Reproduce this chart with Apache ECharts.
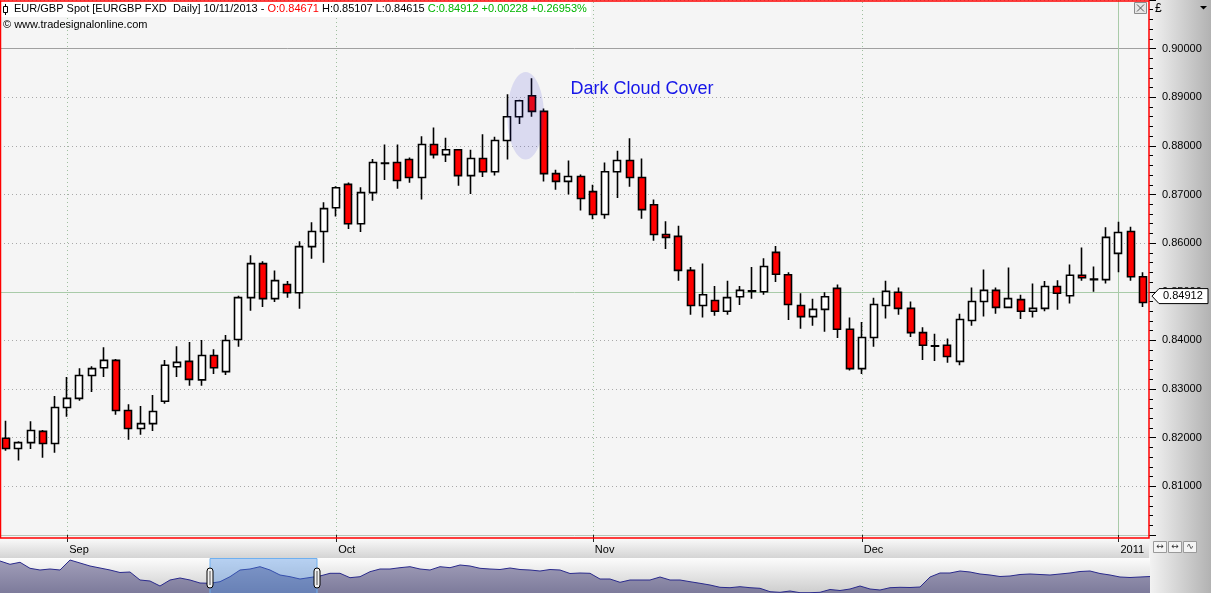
<!DOCTYPE html>
<html><head><meta charset="utf-8">
<script src="https://cdn.jsdelivr.net/npm/echarts@6/dist/echarts.min.js"></script>
<style>html,body{margin:0;padding:0;background:#f5f5f5;overflow:hidden}#c{width:1211px;height:593px}</style>
</head><body><div id="c"></div>
<script>
// ---------- DATA ----------
const dates = [
'2010-08-25','2010-08-26','2010-08-27','2010-08-30','2010-08-31',
'2010-09-01','2010-09-02','2010-09-03','2010-09-06','2010-09-07','2010-09-08','2010-09-09','2010-09-10','2010-09-13','2010-09-14','2010-09-15','2010-09-16','2010-09-17','2010-09-20','2010-09-21','2010-09-22','2010-09-23','2010-09-24','2010-09-27','2010-09-28','2010-09-29','2010-09-30',
'2010-10-01','2010-10-04','2010-10-05','2010-10-06','2010-10-07','2010-10-08','2010-10-11','2010-10-12','2010-10-13','2010-10-14','2010-10-15','2010-10-18','2010-10-19','2010-10-20','2010-10-21','2010-10-22','2010-10-25','2010-10-26','2010-10-27','2010-10-28','2010-10-29',
'2010-11-01','2010-11-02','2010-11-03','2010-11-04','2010-11-05','2010-11-08','2010-11-09','2010-11-10','2010-11-11','2010-11-12','2010-11-15','2010-11-16','2010-11-17','2010-11-18','2010-11-19','2010-11-22','2010-11-23','2010-11-24','2010-11-25','2010-11-26','2010-11-29','2010-11-30',
'2010-12-01','2010-12-02','2010-12-03','2010-12-06','2010-12-07','2010-12-08','2010-12-09','2010-12-10','2010-12-13','2010-12-14','2010-12-15','2010-12-16','2010-12-17','2010-12-20','2010-12-21','2010-12-22','2010-12-23','2010-12-27','2010-12-28','2010-12-29','2010-12-30',
'2011-01-03','2011-01-04','2011-01-05'
];
const openP = [0.8199,0.8178,0.8190,0.8213,0.8188,0.8262,0.8281,0.8328,0.8344,0.8359,0.8256,0.8219,0.8229,0.8275,0.8346,0.8357,0.8319,0.8369,0.8336,0.8402,0.8488,0.8558,0.8486,0.8515,0.8498,0.8593,0.8624,0.8673,0.8721,0.8640,0.8704,0.8765,0.8766,0.8772,0.8735,0.8803,0.8782,0.8792,0.8739,0.8774,0.8747,0.8811,0.8860,0.8903,0.8871,0.8743,0.8727,0.8737,0.8706,0.8659,0.8747,0.8770,0.8735,0.8679,0.8618,0.8614,0.8544,0.8472,0.8482,0.8460,0.8490,0.8501,0.8500,0.8581,0.8535,0.8472,0.8449,0.8464,0.8507,0.8423,0.8342,0.8406,0.8472,0.8499,0.8466,0.8416,0.8389,0.8390,0.8357,0.8441,0.8480,0.8503,0.8468,0.8484,0.8460,0.8466,0.8511,0.8492,0.8534,0.8526,0.8525,0.8579,0.8624,0.8531];
const closeP = [0.8178,0.8190,0.8215,0.8188,0.8262,0.8281,0.8328,0.8342,0.8359,0.8256,0.8219,0.8229,0.8254,0.8349,0.8355,0.8320,0.8369,0.8344,0.8400,0.8488,0.8558,0.8486,0.8523,0.8498,0.8593,0.8624,0.8671,0.8714,0.8640,0.8704,0.8766,0.8764,0.8729,0.8735,0.8803,0.8782,0.8792,0.8739,0.8774,0.8747,0.8811,0.8860,0.8893,0.8871,0.8743,0.8727,0.8737,0.8692,0.8659,0.8747,0.8770,0.8735,0.8669,0.8618,0.8612,0.8544,0.8472,0.8494,0.8460,0.8488,0.8503,0.8502,0.8552,0.8536,0.8474,0.8449,0.8464,0.8490,0.8423,0.8342,0.8406,0.8474,0.8501,0.8466,0.8416,0.8390,0.8388,0.8367,0.8443,0.8480,0.8503,0.8468,0.8486,0.8460,0.8466,0.8511,0.8497,0.8534,0.8529,0.8525,0.8612,0.8622,0.8531,0.8478];
const lowP = [0.8173,0.8153,0.8177,0.8159,0.8169,0.8243,0.8276,0.8294,0.8325,0.8247,0.8196,0.8206,0.8214,0.8270,0.8325,0.8307,0.8307,0.8331,0.8329,0.8387,0.8461,0.8469,0.8479,0.8488,0.8465,0.8568,0.8560,0.8655,0.8629,0.8623,0.8687,0.8730,0.8712,0.8724,0.8690,0.8774,0.8767,0.8718,0.8701,0.8736,0.8739,0.8772,0.8845,0.8860,0.8727,0.8710,0.8700,0.8667,0.8649,0.8650,0.8693,0.8716,0.8650,0.8605,0.8588,0.8523,0.8453,0.8447,0.8451,0.8453,0.8473,0.8486,0.8494,0.8520,0.8442,0.8424,0.8430,0.8418,0.8405,0.8338,0.8331,0.8387,0.8445,0.8453,0.8407,0.8360,0.8358,0.8354,0.8349,0.8430,0.8449,0.8455,0.8466,0.8444,0.8447,0.8460,0.8463,0.8476,0.8523,0.8500,0.8517,0.8540,0.8523,0.8469];
const highP = [0.8235,0.8193,0.8234,0.8216,0.8286,0.8325,0.8343,0.8347,0.8386,0.8362,0.8269,0.8265,0.8288,0.8360,0.8388,0.8397,0.8401,0.8382,0.8411,0.8492,0.8575,0.8563,0.8544,0.8522,0.8604,0.8643,0.8684,0.8717,0.8725,0.8715,0.8773,0.8803,0.8803,0.8776,0.8820,0.8838,0.8817,0.8792,0.8792,0.8824,0.8819,0.8906,0.8895,0.8939,0.8877,0.8751,0.8770,0.8741,0.8720,0.8766,0.8790,0.8816,0.8774,0.8690,0.8645,0.8636,0.8551,0.8558,0.8512,0.8523,0.8512,0.8551,0.8569,0.8594,0.8540,0.8497,0.8486,0.8499,0.8515,0.8447,0.8438,0.8488,0.8523,0.8509,0.8480,0.8427,0.8414,0.8404,0.8455,0.8509,0.8546,0.8509,0.8550,0.8494,0.8517,0.8522,0.8524,0.8556,0.8591,0.8552,0.8633,0.8644,0.8634,0.8540];
const monthLabels = {'2010-09-01':'Sep','2010-10-01':'Oct','2010-11-01':'Nov','2010-12-01':'Dec','2011-01-03':'2011'};
const yMin = 0.80, yMax = 0.91, yStep = 0.01;
const lastPrice = 0.84912;
const levelLine = 0.85;
const topLine = 0.90;
const patternDates = ['2010-10-22','2010-10-25'];
const patternCenter = 0.8862, patternHalfHeight = 0.0090;
const patternLabel = 'Dark Cloud Cover';
const patternLabelAt = ['2010-10-28', 0.8916];
const headerParts = [
  ['EUR/GBP Spot [EURGBP FXD  Daily] 10/11/2013 - ', '#000000'],
  ['O:0.84671', '#ff0000'],
  [' H:0.85107 L:0.84615 ', '#000000'],
  ['C:0.84912 +0.00228 +0.26953%', '#00b400']
];
const copyright = '\u00a9 www.tradesignalonline.com';
// navigator overview (relative level, sampled left to right)
const navValues = [32,28.7,30.7,24.7,23,24,23,33,30,27,25,23,20.5,21,13,12,7,13,15,13,10,9.7,11.3,16.3,23,24,26.3,23,18,16.3,14,15.5,17,19.7,19.7,15.3,16.3,21.3,24,24,25.3,26.3,24,23,26.3,25.3,28,27,24.7,24,23.5,25,23.5,23,22,23.5,23,19.5,20,19.7,14,14,10.7,13,13,13,16,13,13,11.3,9.7,8,5.7,5.3,6.3,5.3,4.7,1.3,0.7,2,0.3,0.3,0.7,3.5,2.5,4,7,4,3,5.3,5.7,5.5,6,16,20,20,22,21,19,18,16.5,17,18.5,19,18.5,18,19,20,21.5,22,19.5,18,16,15.5,16,16.5];
const navWindow = [21, 31.7];

// ---------- CHART ----------
const FONT = '"Liberation Sans", Arial, sans-serif';
const chart = echarts.init(document.getElementById('c'), null, {renderer: 'canvas'});
const candleData = dates.map((d, i) => [openP[i], closeP[i], lowP[i], highP[i]]);
const isMonth = (idx, val) => monthLabels[val] !== undefined;

const vLines = Object.keys(monthLabels).map(d => ({
  xAxis: d,
  lineStyle: d === '2011-01-03' ? {color: '#a9cba9', type: 'solid', width: 1} : {color: '#9fbf9f', type: [1, 3], width: 1}
}));

chart.setOption({
  animation: false,
  backgroundColor: '#f5f5f5',
  grid: [
    {left: -1, right: 62, top: 0, bottom: 58, show: true, backgroundColor: '#f5f5f5', borderWidth: 0},
    {left: 0, right: 61, top: 558, height: 35, show: false}
  ],
  xAxis: [
    {type: 'category', gridIndex: 0, data: dates, boundaryGap: true,
     axisLine: {show: true, lineStyle: {color: '#b8c6b8', width: 1}},
     axisTick: {show: true, alignWithLabel: true, interval: isMonth, length: 7, lineStyle: {color: '#222', width: 1}},
     axisLabel: {interval: isMonth, formatter: v => monthLabels[v] || '', align: 'left', margin: 9, color: '#000', fontFamily: FONT, fontSize: 11, padding: [0, 0, 0, 2]},
     splitLine: {show: false}},
    {type: 'value', gridIndex: 1, min: 0, max: navValues.length - 1, show: false}
  ],
  yAxis: [
    {type: 'value', gridIndex: 0, position: 'right', min: yMin, max: yMax, interval: yStep,
     axisLine: {show: false},
     axisTick: {show: true, length: 7, lineStyle: {color: '#000'}},
     minorTick: {show: true, splitNumber: 5, length: 4, lineStyle: {color: '#000'}},
     axisLabel: {showMinLabel: false, showMaxLabel: false, formatter: v => v.toFixed(5), margin: 13, color: '#000', fontFamily: FONT, fontSize: 11},
     splitLine: {show: true, lineStyle: {color: '#a9a9a9', type: [1, 3], width: 1}}},
    {type: 'value', gridIndex: 1, min: 0, max: 35, show: false}
  ],
  series: [
    {type: 'candlestick', xAxisIndex: 0, yAxisIndex: 0, data: candleData, barWidth: 7.5, z: 3,
     itemStyle: {color: '#ffffff', color0: '#ff0000', borderColor: '#000000', borderColor0: '#000000', borderColorDoji: '#000000', borderWidth: 1.6},
     markLine: {silent: true, symbol: 'none', z: 1, label: {show: false}, animation: false,
       data: [
         {yAxis: topLine, lineStyle: {color: '#a0a0a0', type: 'solid', width: 1}},
         {yAxis: levelLine, lineStyle: {color: '#a9cba9', type: 'solid', width: 1}}
       ].concat(vLines)}},
    {type: 'line', xAxisIndex: 1, yAxisIndex: 1, data: navValues.map((v, i) => [i, v]), symbol: 'none', z: 2,
     lineStyle: {color: '#2a2a8c', width: 1},
     areaStyle: {opacity: 1, color: new echarts.graphic.LinearGradient(0, 0, 0, 1, [{offset: 0, color: '#a19eb9'}, {offset: 1, color: '#7d7b9b'}])}}
  ]
});

// ---------- ANNOTATIONS / FRAME ----------
const px = (d, v) => chart.convertToPixel({xAxisIndex: 0, yAxisIndex: 0}, [d, v]);
const mctx = document.createElement('canvas').getContext('2d');
mctx.font = '11px ' + FONT;
const g = [];
// backgrounds
g.push({type: 'rect', z: -10, shape: {x: 1149, y: 0, width: 62, height: 593},
  style: {fill: new echarts.graphic.LinearGradient(0, 0, 1, 0, [{offset: 0, color: '#f3f3f3'}, {offset: 1, color: '#b2b2b2'}])}});
g.push({type: 'rect', z: -10, shape: {x: 0, y: 538, width: 1149, height: 20},
  style: {fill: new echarts.graphic.LinearGradient(0, 0, 0, 1, [{offset: 0, color: '#fbfbfb'}, {offset: 1, color: '#d4d4d4'}])}});
g.push({type: 'rect', z: -10, shape: {x: 0, y: 558, width: 1150, height: 35},
  style: {fill: new echarts.graphic.LinearGradient(0, 0, 0, 1, [{offset: 0, color: '#fcfcfc'}, {offset: 1, color: '#cdcdcd'}])}});
// red pane border
g.push({type: 'rect', z: 100, shape: {x: 0.5, y: 1, width: 1148.5, height: 537}, style: {fill: 'none', stroke: '#ff0000', lineWidth: 1.5}});
// header
let hx = 14;
const widths = headerParts.map(p => mctx.measureText(p[0]).width);
const totalW = widths.reduce((a, b) => a + b, 0);
g.push({type: 'rect', z: 90, shape: {x: 0, y: 2, width: hx + totalW + 4, height: 15}, style: {fill: '#ffffff'}});
g.push({type: 'line', z: 91, shape: {x1: 5.5, y1: 4, x2: 5.5, y2: 15}, style: {stroke: '#000', lineWidth: 1}});
g.push({type: 'rect', z: 92, shape: {x: 3.5, y: 6.5, width: 4, height: 6}, style: {fill: '#fff', stroke: '#000', lineWidth: 1}});
headerParts.forEach((p, i) => {
  g.push({type: 'text', z: 95, x: hx, y: 3, style: {text: p[0], fill: p[1], font: '11px ' + FONT, textVerticalAlign: 'top'}});
  hx += widths[i];
});
g.push({type: 'text', z: 95, x: 3, y: 19, style: {text: copyright, fill: '#000', font: '11px ' + FONT}});
// currency symbol and dropdown
g.push({type: 'text', z: 120, x: 1155, y: 3, style: {text: '\u00a3', fill: '#000', font: '12px ' + FONT}});
g.push({type: 'polygon', z: 120, shape: {points: [[1200, 6], [1207, 6], [1203.5, 9.5]]}, style: {fill: '#000'}});
// close box
g.push({type: 'rect', z: 95, shape: {x: 1134.5, y: 2.5, width: 12, height: 11}, style: {fill: '#e6e6e6', stroke: '#8a8a8a', lineWidth: 1}});
g.push({type: 'line', z: 96, shape: {x1: 1137, y1: 4.5, x2: 1144, y2: 11.5}, style: {stroke: '#555', lineWidth: 1}});
g.push({type: 'line', z: 96, shape: {x1: 1144, y1: 4.5, x2: 1137, y2: 11.5}, style: {stroke: '#555', lineWidth: 1}});
// bottom-right buttons
['\u2194', '\u2194', '\u223f'].forEach((t, i) => {
  const bx = 1153.5 + i * 15;
  g.push({type: 'rect', z: 95, shape: {x: bx, y: 541.5, width: 13, height: 11}, style: {fill: '#f4f4f4', stroke: '#9a9a9a', lineWidth: 1}});
  g.push({type: 'text', z: 96, x: bx + 6.5, y: 547, style: {text: t, fill: '#333', font: '9px "DejaVu Sans"', textAlign: 'center', textVerticalAlign: 'middle'}});
});
// pattern ellipse
const p1 = px(patternDates[0], patternCenter), p2 = px(patternDates[1], patternCenter);
const pTop = px(patternDates[0], patternCenter + patternHalfHeight);
const step = p2[0] - p1[0];
g.push({type: 'ellipse', z: 60, shape: {cx: (p1[0] + p2[0]) / 2, cy: p1[1], rx: step * 1.5, ry: p1[1] - pTop[1]},
  style: {fill: 'rgba(40,40,210,0.13)'}});
const lp = px(patternLabelAt[0], patternLabelAt[1]);
g.push({type: 'text', z: 60, x: lp[0] + 2, y: lp[1], style: {text: patternLabel, fill: '#1616e8', font: '18px ' + FONT, textVerticalAlign: 'middle'}});
// last price tag
const ly = px(dates[dates.length - 1], lastPrice)[1];
g.push({type: 'polygon', z: 97, shape: {points: [[1152, ly], [1159, ly - 7.5], [1208, ly - 7.5], [1208, ly + 7.5], [1159, ly + 7.5]]},
  style: {fill: '#ffffff', stroke: '#000', lineWidth: 1}});
g.push({type: 'text', z: 98, x: 1163, y: ly, style: {text: lastPrice.toFixed(5), fill: '#000', font: '11px ' + FONT, textVerticalAlign: 'middle'}});
// navigator window and handles
const wx0 = chart.convertToPixel({xAxisIndex: 1}, navWindow[0]);
const wx1 = chart.convertToPixel({xAxisIndex: 1}, navWindow[1]);
g.push({type: 'rect', z: 50, shape: {x: wx0, y: 558.5, width: wx1 - wx0, height: 35}, style: {fill: 'rgba(70,140,225,0.38)', stroke: '#6fb0f0', lineWidth: 1}});
[wx0, wx1].forEach(hxp => {
  g.push({type: 'rect', z: 99, shape: {x: hxp - 3, y: 568, width: 6, height: 20, r: 3}, style: {fill: '#f2f2f2', stroke: '#000', lineWidth: 1}});
  g.push({type: 'line', z: 100, shape: {x1: hxp, y1: 571, x2: hxp, y2: 585}, style: {stroke: '#555', lineWidth: 1}});
});
chart.setOption({graphic: {elements: g}});
</script>
</body></html>
